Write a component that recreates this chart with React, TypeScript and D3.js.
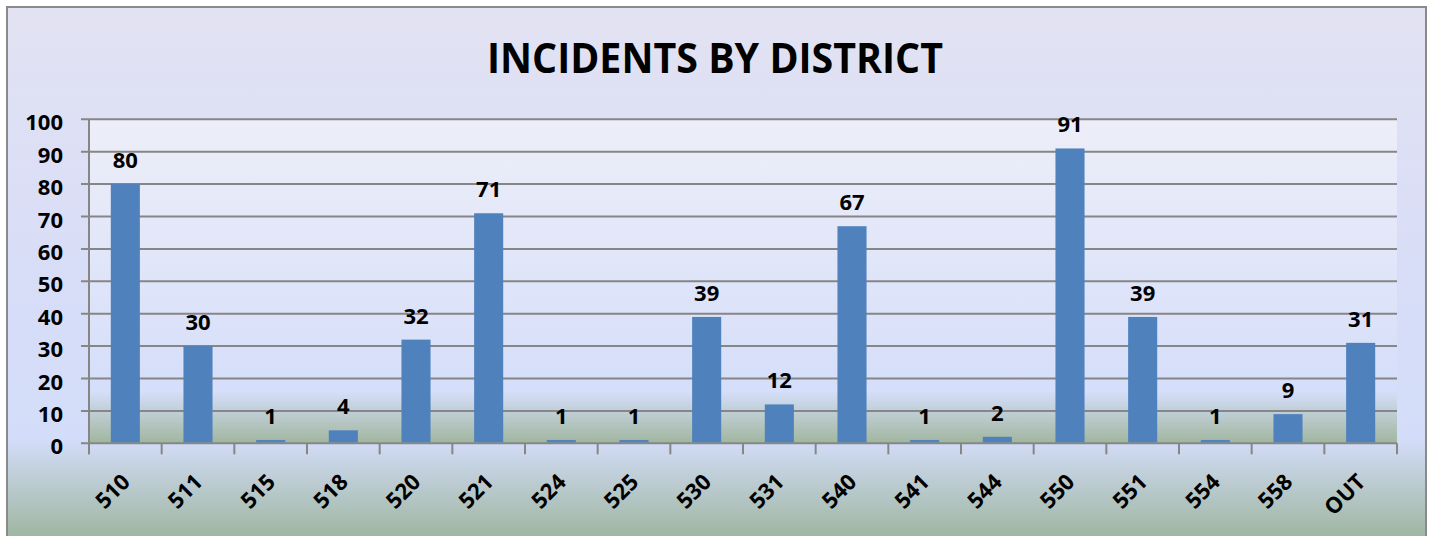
import React from "react";
import * as d3 from "d3";

const categories = ["510","511","515","518","520","521","524","525","530","531","540","541","544","550","551","554","558","OUT"];
const values = [80,30,1,4,32,71,1,1,39,12,67,1,2,91,39,1,9,31];
const yTicks = [0,10,20,30,40,50,60,70,80,90,100];
const title = "INCIDENTS BY DISTRICT";

const W = 1430, H = 536;
const plot = { left: 89, right: 1397, top: 119.3, bottom: 443.3 };
const numFont = "'Open Sans', sans-serif";
const NFS = 22;

export default function App() {
  const x = d3.scaleBand<string>().domain(categories).range([plot.left, plot.right]).paddingInner(0.6).paddingOuter(0.3);
  const y = d3.scaleLinear().domain([0, 100]).range([plot.bottom, plot.top]);
  const step = x.step();
  const boundaries = d3.range(categories.length + 1).map((i) => plot.left + i * step);
  const grid = "#868686";
  return (
    <svg width={W} height={H} style={{ position: "absolute", left: 0, top: 0, display: "block" }}>
      <defs>
        <linearGradient id="outerBg" x1="0" y1="0" x2="0" y2="1">
          <stop offset="0" stopColor="#e2e2f2" />
          <stop offset="0.55" stopColor="#d7ddf8" />
          <stop offset="0.8" stopColor="#d3ddf9" />
          <stop offset="1" stopColor="#9ab298" />
        </linearGradient>
        <linearGradient id="plotBg" x1="0" y1="0" x2="0" y2="1">
          <stop offset="0" stopColor="#edeef8" />
          <stop offset="0.84" stopColor="#d5defa" />
          <stop offset="1" stopColor="#a0b69e" />
        </linearGradient>
      </defs>
      <rect x={0} y={0} width={W} height={H} fill="#ffffff" />
      <rect x={7} y={7} width={1419} height={540} fill="url(#outerBg)" stroke="#8a8a8a" strokeWidth={2} />
      <text x={715} y={73} textAnchor="middle" fontFamily="'Open Sans', sans-serif" fontWeight="bold" fontSize={42} textLength={456} lengthAdjust="spacingAndGlyphs" fill="#000">{title}</text>
      <rect x={plot.left} y={plot.top} width={plot.right - plot.left} height={plot.bottom - plot.top} fill="url(#plotBg)" />
      {yTicks.map((t) => (
        <g key={t}>
          <line x1={81} x2={plot.right} y1={y(t)} y2={y(t)} stroke={grid} strokeWidth={2} />
          <text x={63} y={y(t) + 11} textAnchor="end" fontFamily={numFont} fontWeight="bold" fontSize={NFS} fill="#000">{t}</text>
        </g>
      ))}
      <line x1={plot.left} x2={plot.left} y1={plot.top} y2={plot.bottom + 11} stroke={grid} strokeWidth={2} />
      {boundaries.map((bx, i) => (
        <line key={i} x1={bx} x2={bx} y1={plot.bottom} y2={plot.bottom + 11} stroke={grid} strokeWidth={2} />
      ))}
      {categories.map((c, i) => {
        const bx = x(c)!;
        const v = values[i];
        const cx = bx + x.bandwidth() / 2;
        return (
          <g key={c}>
            <rect x={bx} y={y(v)} width={x.bandwidth()} height={y(0) - y(v) - 1} fill="#4f81bd" />
            <text x={cx} y={y(v) - 16} textAnchor="middle" fontFamily={numFont} fontWeight="bold" fontSize={NFS} fill="#000">{v}</text>
            <text transform={`translate(${cx + 6},${plot.bottom + 40}) rotate(-45)`} textAnchor="end" fontFamily={numFont} fontWeight="bold" fontSize={NFS} fill="#000">{c}</text>
          </g>
        );
      })}
    </svg>
  );
}
